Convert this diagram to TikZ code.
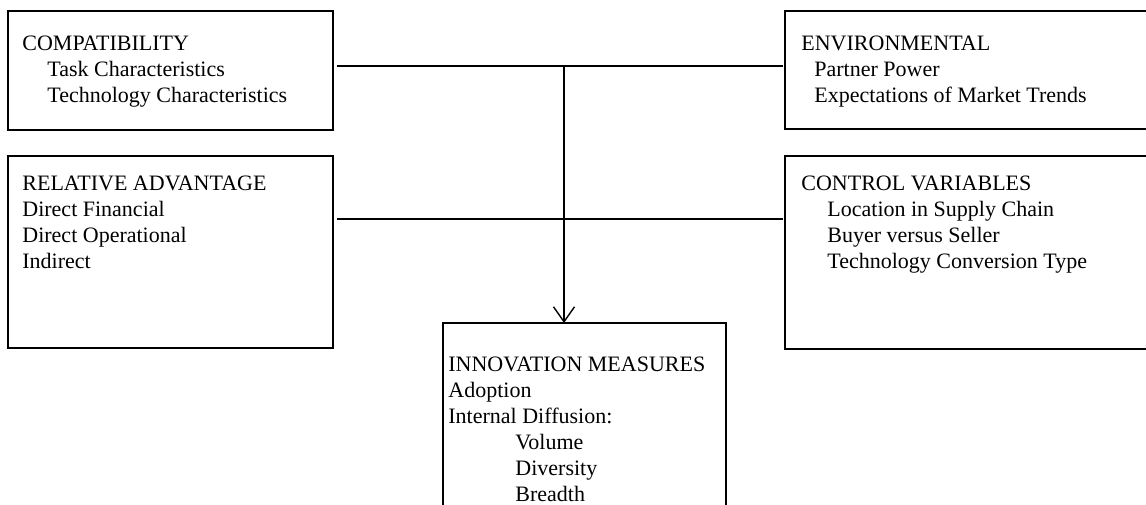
\documentclass[tikz,border=0pt]{standalone}
\usepackage{fontspec}
\setmainfont{Liberation Serif}
\usetikzlibrary{arrows.meta}
\begin{document}
\begin{tikzpicture}[x=0.5pt,y=-0.5pt,
  box/.style={draw=black, line width=1pt, rectangle, inner sep=0pt, outer sep=0pt},
  thinbox/.style={draw=black, line width=0.6pt, rectangle, inner sep=0pt, outer sep=0pt},
  conn/.style={draw=black, line width=0.7pt},
  txt/.style={anchor=base west, inner sep=0pt, font=\fontsize{11}{13}\selectfont}]
\useasboundingbox (0,0) rectangle (1146,504);
\clip (0,0) rectangle (1146,504);
\fill[white] (0,0) rectangle (1146,504);
% boxes
\node[box, minimum width=162.5pt, minimum height=59.5pt] (comp) at (170.5,70.5) {};
\node[box, minimum width=162.5pt, minimum height=96pt] (rel) at (170.5,252) {};
\node[box, minimum width=182.5pt, minimum height=59pt] (env) at (967.5,70) {};
\node[box, minimum width=182.5pt, minimum height=96.5pt] (ctrl) at (967.5,252.5) {};
\node[thinbox, minimum width=141.5pt, minimum height=96pt] (innov) at (584.5,419) {};
% texts
\node[txt] (c1) at (22,50) {COMPATIBILITY};
\node[txt] (c2) at (47,76) {Task Characteristics};
\node[txt] (c3) at (47,102) {Technology Characteristics};
\node[txt] (r1) at (22,190) {RELATIVE ADVANTAGE};
\node[txt] (r2) at (22,216) {Direct Financial};
\node[txt] (r3) at (22,242) {Direct Operational};
\node[txt] (r4) at (22,268) {Indirect};
\node[txt] (e1) at (801,50) {ENVIRONMENTAL};
\node[txt] (e2) at (814,76) {Partner Power};
\node[txt] (e3) at (814,102) {Expectations of Market Trends};
\node[txt] (k1) at (801,190) {CONTROL VARIABLES};
\node[txt] (k2) at (827,216) {Location in Supply Chain};
\node[txt] (k3) at (827,242) {Buyer versus Seller};
\node[txt] (k4) at (827,268) {Technology Conversion Type};
\node[txt] (i1) at (448,371) {INNOVATION MEASURES};
\node[txt] (i2) at (448,397) {Adoption};
\node[txt] (i3) at (448,423) {Internal Diffusion:};
\node[txt] (i4) at (515,449) {Volume};
\node[txt] (i5) at (515,475) {Diversity};
\node[txt] (i6) at (515,501) {Breadth};
% connectors
\coordinate (a1) at (337,66);
\coordinate (a2) at (783,66);
\coordinate (b1) at (337,219);
\coordinate (b2) at (783,219);
\coordinate (j) at (564,66);
\draw[conn] (a1) -- (a2);
\draw[conn] (b1) -- (b2);
\draw[conn, -{Straight Barb[length=7.5pt,width=10.5pt]}] (j) -- (innov.north -| j);
\end{tikzpicture}
\end{document}
